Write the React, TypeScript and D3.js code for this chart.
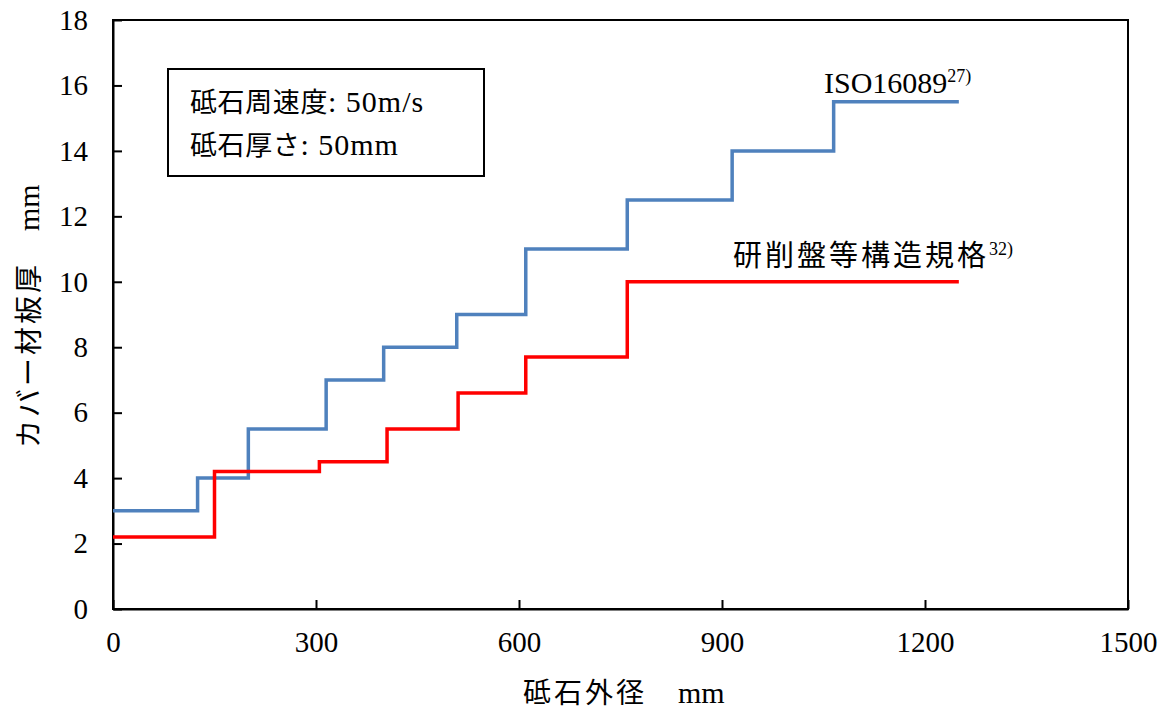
import React, { useEffect, useRef } from 'react';
import * as d3 from 'd3';

// ISO16089: grinding wheel diameter break points (mm) and guard thickness (mm)
const isoDiameters = [0, 125, 200, 315, 400, 508, 610, 760, 915, 1065, 1250];
const isoThickness = [3, 4, 5.5, 7, 8, 9, 11, 12.5, 14, 15.5, 15.5];

// 研削盤等構造規格
const jisDiameters = [0, 150, 305, 405, 510, 610, 760, 1250];
const jisThickness = [2.2, 4.2, 4.5, 5.5, 6.6, 7.7, 10, 10];

const xTicks = [0, 300, 600, 900, 1200, 1500];
const yTicks = [0, 2, 4, 6, 8, 10, 12, 14, 16, 18];

const FONT = '"Liberation Serif", "Times New Roman", "Noto Sans CJK JP", serif';
const JP = '"Noto Sans CJK JP", sans-serif';

export default function App() {
  const ref = useRef<SVGSVGElement>(null);

  useEffect(() => {
    const svg = d3.select(ref.current);
    svg.selectAll('*').remove();

    const margin = { top: 20, right: 46, bottom: 106, left: 113 };
    const W = 1174, H = 715;
    const width = W - margin.left - margin.right;
    const height = H - margin.top - margin.bottom;

    const x = d3.scaleLinear().domain([0, 1500]).range([0, width]);
    const y = d3.scaleLinear().domain([0, 18]).range([height, 0]);

    const g = svg.append('g').attr('transform', `translate(${margin.left},${margin.top})`);

    // frame
    g.append('rect')
      .attr('width', width).attr('height', height)
      .attr('fill', 'none').attr('stroke', '#000').attr('stroke-width', 2);

    // inward ticks
    const xa = g.append('g').attr('transform', `translate(0,${height})`)
      .call(d3.axisBottom(x).tickValues(xTicks).tickFormat(d3.format('d'))
        .tickSizeInner(-9).tickSizeOuter(0).tickPadding(22));
    const ya = g.append('g')
      .call(d3.axisLeft(y).tickValues(yTicks).tickFormat(d3.format('d'))
        .tickSizeInner(-9).tickSizeOuter(0).tickPadding(25));
    [xa, ya].forEach(a => {
      a.select('.domain').attr('stroke', '#000').attr('stroke-width', 2);
      a.selectAll('line').attr('stroke', '#000').attr('stroke-width', 2);
      a.selectAll('text').attr('font-family', FONT).attr('font-size', 29).attr('fill', '#000');
    });
    xa.selectAll('text').attr('dy', '0.71em');

    const line = d3.line<[number, number]>()
      .x(d => x(d[0])).y(d => y(d[1]))
      .curve(d3.curveStepAfter);

    const isoPts = isoDiameters.map((d, i) => [d, isoThickness[i]] as [number, number]);
    const jisPts = jisDiameters.map((d, i) => [d, jisThickness[i]] as [number, number]);

    g.append('path').datum(isoPts).attr('d', line)
      .attr('fill', 'none').attr('stroke', '#4F81BD').attr('stroke-width', 3.5);
    g.append('path').datum(jisPts).attr('d', line)
      .attr('fill', 'none').attr('stroke', '#FF0000').attr('stroke-width', 3.5);

    // series labels
    const lab1 = g.append('text').attr('x', 824 - margin.left).attr('y', y(15.5) - 9)
      .attr('font-family', FONT).attr('font-size', 30).attr('fill', '#000');
    lab1.append('tspan').text('ISO16089');
    lab1.append('tspan').attr('font-size', 18).attr('dy', -11).text('27)');

    const lab2 = g.append('text').attr('x', 733 - margin.left).attr('y', y(10) - 16)
      .attr('font-family', FONT).attr('font-size', 30).attr('fill', '#000');
    lab2.append('tspan').attr('font-family', JP).attr('font-size', 29).attr('letter-spacing', 3)
      .text('研削盤等構造規格');
    lab2.append('tspan').attr('font-size', 18).attr('dy', -11).text('32)');

    // condition box
    g.append('rect').attr('x', 168 - margin.left).attr('y', 69 - margin.top)
      .attr('width', 316).attr('height', 107)
      .attr('fill', '#fff').attr('stroke', '#000').attr('stroke-width', 2);
    const t1 = g.append('text').attr('x', 190 - margin.left).attr('y', 112 - margin.top)
      .attr('font-family', FONT).attr('font-size', 30);
    t1.append('tspan').attr('font-family', JP).attr('font-size', 27).attr('letter-spacing', 0.6)
      .text('砥石周速度');
    t1.append('tspan').attr('letter-spacing', 1).text(': 50m/s');
    const t2 = g.append('text').attr('x', 190 - margin.left).attr('y', 155 - margin.top)
      .attr('font-family', FONT).attr('font-size', 30);
    t2.append('tspan').attr('font-family', JP).attr('font-size', 27).attr('letter-spacing', 0.6)
      .text('砥石厚さ');
    t2.append('tspan').attr('letter-spacing', 1).text(': 50mm');

    // axis titles
    const xt = svg.append('text').attr('x', 523).attr('y', 703)
      .attr('font-family', FONT).attr('font-size', 30);
    xt.append('tspan').attr('font-family', JP).attr('font-size', 28).attr('letter-spacing', 3)
      .text('砥石外径\u3000');
    xt.append('tspan').text('mm');
    const yt = svg.append('text')
      .attr('transform', `translate(39,448) rotate(-90)`)
      .attr('font-family', FONT).attr('font-size', 30);
    yt.append('tspan').attr('font-family', JP).attr('font-size', 28).attr('letter-spacing', 3)
      .text('カバー材板厚\u3000');
    yt.append('tspan').text('mm');
  }, []);

  return (
    <svg ref={ref} width={1174} height={715} style={{ position: 'absolute', left: 0, top: 0, background: '#fff' }} />
  );
}
